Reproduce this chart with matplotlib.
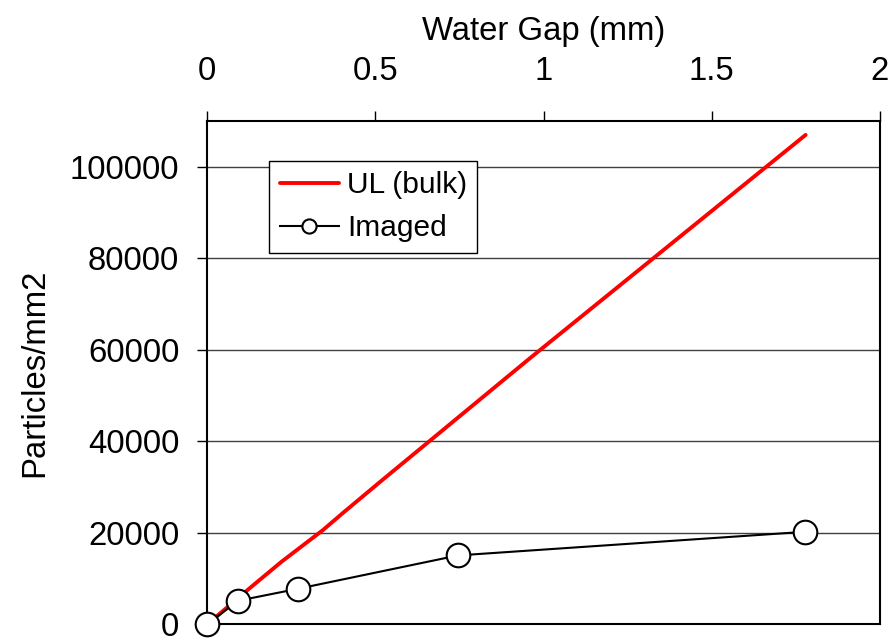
import matplotlib
matplotlib.use('Agg')
from matplotlib import pyplot as plt

plt.rcParams['font.family'] = ['Liberation Sans', 'DejaVu Sans']

# water gap (mm) vs particle density
bulk_gap = [0, 0.127, 0.221, 0.344, 0.403, 0.513, 0.959, 1.779]
bulk_particles = [0, 7940, 13680, 20590, 24300, 31060, 58100, 106900]

imaged_gap = [0, 0.092, 0.2705, 0.746, 1.777]
imaged_particles = [0, 5170, 7790, 15070, 20220]

x_ticks = [0, 0.5, 1, 1.5, 2]
x_tick_labels = ['0', '0.5', '1', '1.5', '2']
y_ticks = [0, 20000, 40000, 60000, 80000, 100000]

fig = plt.figure(figsize=(8.94, 6.38), dpi=100)
ax = fig.add_axes([0.2317, 0.0213, 0.7526, 0.7895])

for y in y_ticks[1:]:
    ax.axhline(y, color='#404040', linewidth=1.0, zorder=1)

ax.plot(bulk_gap, bulk_particles, color='#ff0000', linewidth=2.8,
        label='UL (bulk)', zorder=3, solid_capstyle='round')
ax.plot(imaged_gap, imaged_particles, color='black', linewidth=1.5,
        marker='o', markersize=17, markerfacecolor='white',
        markeredgecolor='black', markeredgewidth=1.5,
        label='Imaged', zorder=4, clip_on=False)

ax.set_xlim(0, 2)
ax.set_ylim(0, 110000)
ax.set_xticks(x_ticks)
ax.set_xticklabels(x_tick_labels)
ax.set_yticks(y_ticks)
ax.set_yticklabels([str(v) for v in y_ticks])

ax.xaxis.tick_top()
ax.xaxis.set_label_position('top')
ax.tick_params(axis='x', direction='out', length=7, width=1, pad=17, labelsize=23.7)
ax.tick_params(axis='y', direction='out', length=7, width=1, pad=13, labelsize=23.7)

for side in ax.spines.values():
    side.set_linewidth(1.5)
    side.set_color('black')

ax.set_xlabel('Water Gap (mm)', fontsize=23.7, labelpad=12)
ax.set_ylabel('Particles/mm2', fontsize=23.7, labelpad=14)

leg = ax.legend(loc='upper left', bbox_to_anchor=(0.070, 0.950),
                fontsize=21.5, frameon=True, fancybox=False, framealpha=1,
                edgecolor='black', handlelength=2.0, handletextpad=0.25,
                borderpad=0.35, labelspacing=0.5, markerscale=0.6)
leg.get_frame().set_linewidth(1.0)

fig.savefig('out.png', dpi=100)
